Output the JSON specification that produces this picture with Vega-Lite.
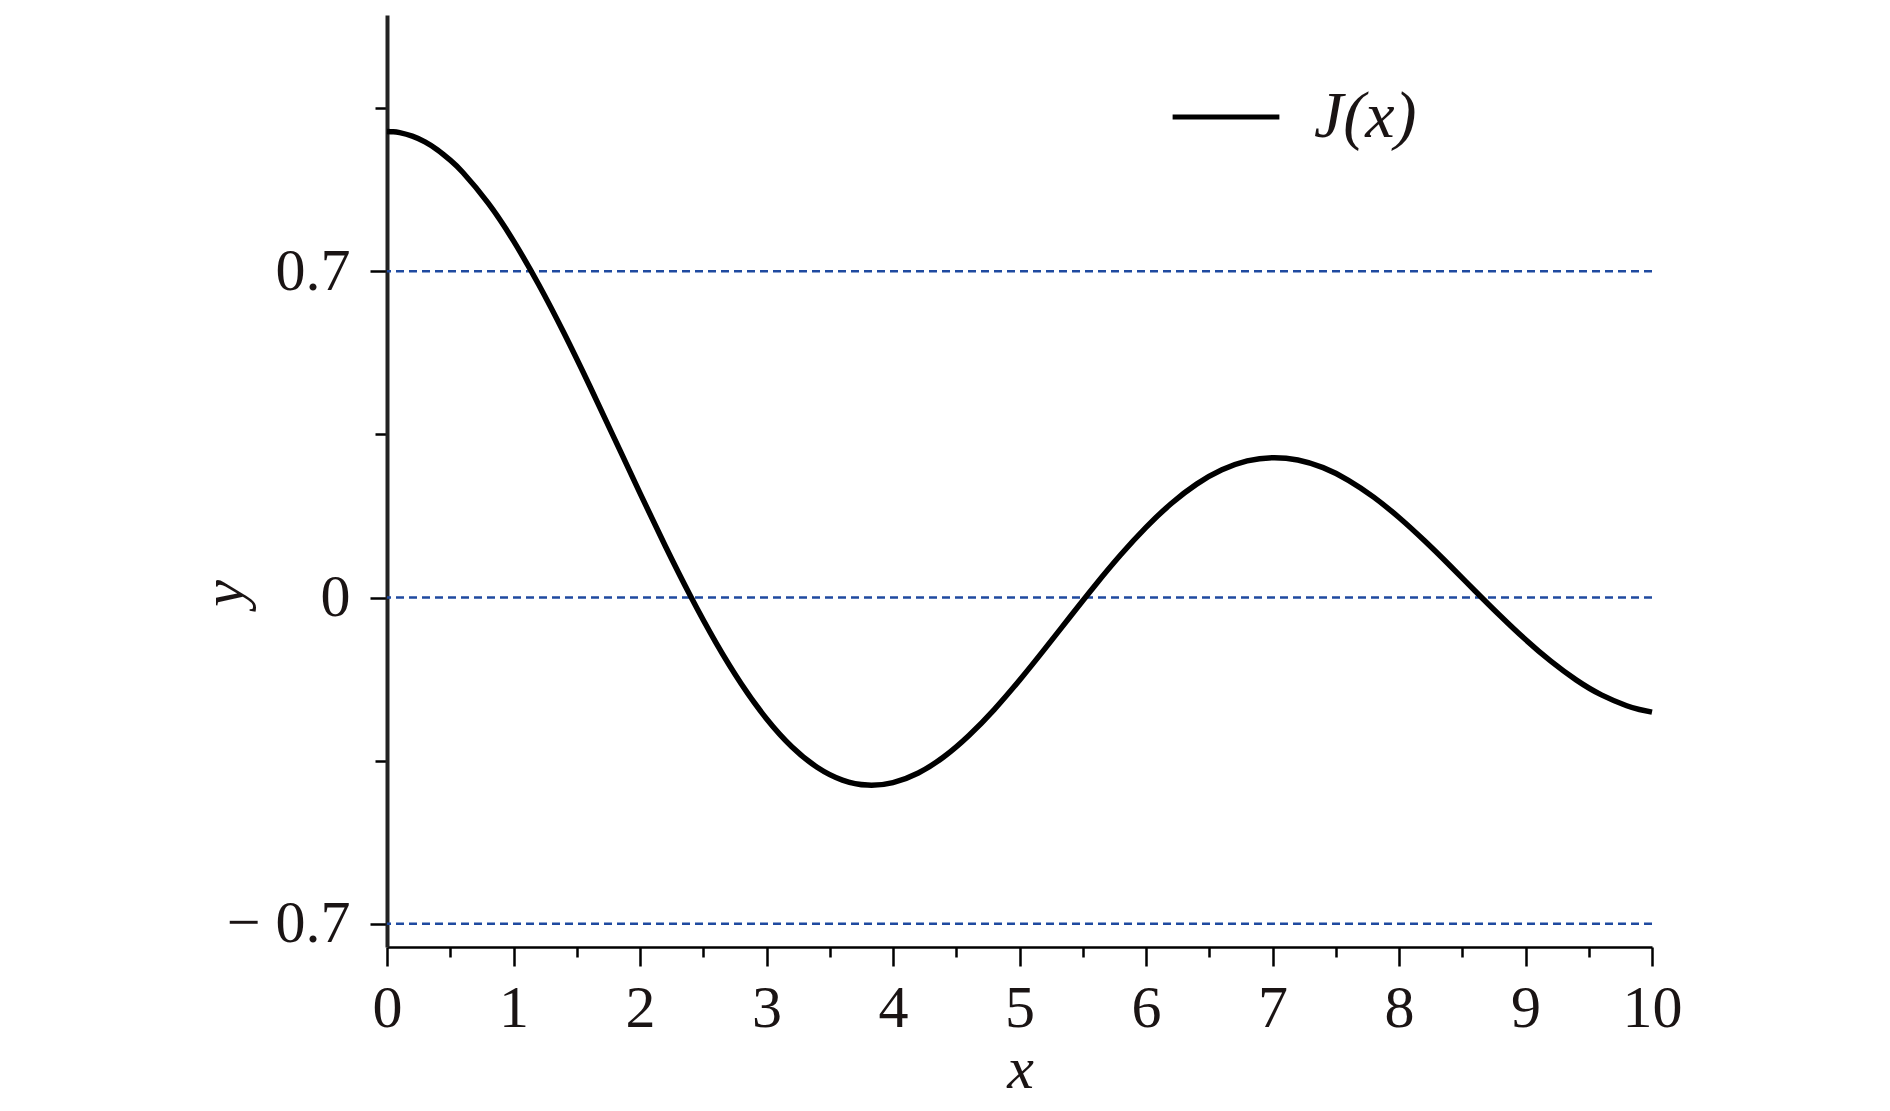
{
  "$schema": "https://vega.github.io/schema/vega-lite/v6.json",
  "width": 1265,
  "height": 932,
  "autosize": "none",
  "padding": {"left": 387, "top": 15, "right": 238, "bottom": 164},
  "background": "white",
  "config": {"view": {"stroke": null}},
  "datasets": {
    "curve": [
      {"x": 0.0, "y": 1.0, "series": "J(x)"},
      {"x": 0.05, "y": 0.9994, "series": "J(x)"},
      {"x": 0.1, "y": 0.9975, "series": "J(x)"},
      {"x": 0.2, "y": 0.99, "series": "J(x)"},
      {"x": 0.3, "y": 0.9776, "series": "J(x)"},
      {"x": 0.4, "y": 0.9604, "series": "J(x)"},
      {"x": 0.5, "y": 0.9385, "series": "J(x)"},
      {"x": 0.6, "y": 0.912, "series": "J(x)"},
      {"x": 0.8, "y": 0.8463, "series": "J(x)"},
      {"x": 1.0, "y": 0.7652, "series": "J(x)"},
      {"x": 1.2, "y": 0.6711, "series": "J(x)"},
      {"x": 1.4, "y": 0.5669, "series": "J(x)"},
      {"x": 1.6, "y": 0.4554, "series": "J(x)"},
      {"x": 1.8, "y": 0.34, "series": "J(x)"},
      {"x": 2.0, "y": 0.2239, "series": "J(x)"},
      {"x": 2.2, "y": 0.1104, "series": "J(x)"},
      {"x": 2.4, "y": 0.0025, "series": "J(x)"},
      {"x": 2.6, "y": -0.0968, "series": "J(x)"},
      {"x": 2.8, "y": -0.185, "series": "J(x)"},
      {"x": 3.0, "y": -0.2601, "series": "J(x)"},
      {"x": 3.2, "y": -0.3202, "series": "J(x)"},
      {"x": 3.4, "y": -0.3643, "series": "J(x)"},
      {"x": 3.6, "y": -0.3918, "series": "J(x)"},
      {"x": 3.8, "y": -0.4026, "series": "J(x)"},
      {"x": 4.0, "y": -0.3971, "series": "J(x)"},
      {"x": 4.2, "y": -0.3766, "series": "J(x)"},
      {"x": 4.4, "y": -0.3423, "series": "J(x)"},
      {"x": 4.6, "y": -0.2961, "series": "J(x)"},
      {"x": 4.8, "y": -0.2404, "series": "J(x)"},
      {"x": 5.0, "y": -0.1776, "series": "J(x)"},
      {"x": 5.2, "y": -0.1103, "series": "J(x)"},
      {"x": 5.4, "y": -0.0412, "series": "J(x)"},
      {"x": 5.6, "y": 0.027, "series": "J(x)"},
      {"x": 5.8, "y": 0.0917, "series": "J(x)"},
      {"x": 6.0, "y": 0.1506, "series": "J(x)"},
      {"x": 6.2, "y": 0.2017, "series": "J(x)"},
      {"x": 6.4, "y": 0.2433, "series": "J(x)"},
      {"x": 6.6, "y": 0.274, "series": "J(x)"},
      {"x": 6.8, "y": 0.2931, "series": "J(x)"},
      {"x": 7.0, "y": 0.3001, "series": "J(x)"},
      {"x": 7.2, "y": 0.2951, "series": "J(x)"},
      {"x": 7.4, "y": 0.2786, "series": "J(x)"},
      {"x": 7.6, "y": 0.2516, "series": "J(x)"},
      {"x": 7.8, "y": 0.2154, "series": "J(x)"},
      {"x": 8.0, "y": 0.1717, "series": "J(x)"},
      {"x": 8.2, "y": 0.1222, "series": "J(x)"},
      {"x": 8.4, "y": 0.0692, "series": "J(x)"},
      {"x": 8.6, "y": 0.0146, "series": "J(x)"},
      {"x": 8.8, "y": -0.0392, "series": "J(x)"},
      {"x": 9.0, "y": -0.0903, "series": "J(x)"},
      {"x": 9.2, "y": -0.1367, "series": "J(x)"},
      {"x": 9.4, "y": -0.1768, "series": "J(x)"},
      {"x": 9.6, "y": -0.209, "series": "J(x)"},
      {"x": 9.8, "y": -0.2323, "series": "J(x)"},
      {"x": 9.9, "y": -0.2403, "series": "J(x)"},
      {"x": 10.0, "y": -0.2459, "series": "J(x)"}
    ],
    "refs": [{"level": 0.7}, {"level": 0}, {"level": -0.7}]
  },
  "layer": [
    {
      "data": {"name": "refs"},
      "mark": {"type": "rule", "color": "#1f4aa0", "strokeWidth": 2.5, "strokeDash": [8, 5]},
      "encoding": {
        "y": {"field": "level", "type": "quantitative", "scale": {"domain": [-0.75, 1.25], "nice": false, "zero": false}}
      }
    },
    {
      "data": {"name": "curve"},
      "mark": {"type": "line", "strokeWidth": 5.5, "interpolate": "natural", "color": "black"},
      "encoding": {
        "x": {
          "field": "x", "type": "quantitative",
          "scale": {"domain": [0, 10], "nice": false, "zero": false},
          "axis": {
            "title": "x",
            "titleFont": "Liberation Serif", "titleFontStyle": "italic", "titleFontWeight": "normal",
            "titleFontSize": 60, "titleColor": "#1a1414",
            "titleX": 633, "titleY": 140, "titleBaseline": "alphabetic", "titleAlign": "center",
            "values": [0, 0.5, 1, 1.5, 2, 2.5, 3, 3.5, 4, 4.5, 5, 5.5, 6, 6.5, 7, 7.5, 8, 8.5, 9, 9.5, 10],
            "labelExpr": "datum.value % 1 == 0 ? format(datum.value, 'd') : ''",
            "labelFont": "Liberation Serif", "labelFontSize": 60, "labelColor": "#1a1414",
            "labelPadding": 13, "labelFlush": false, "labelOverlap": false,
            "tickSize": {"condition": {"test": "datum.value % 1 == 0", "value": 19}, "value": 10},
            "tickWidth": 2.5, "tickColor": "black",
            "domainColor": "black", "domainWidth": 2.5,
            "grid": false
          }
        },
        "y": {
          "field": "y", "type": "quantitative",
          "scale": {"domain": [-0.75, 1.25], "nice": false, "zero": false},
          "axis": {
            "title": "y",
            "titleFont": "Liberation Serif", "titleFontStyle": "italic", "titleFontWeight": "normal",
            "titleFontSize": 60, "titleColor": "#1a1414",
            "titleX": -163, "titleY": 578, "titleBaseline": "middle", "titleAlign": "center", "titleAngle": 270,
            "values": [-0.7, -0.35, 0, 0.35, 0.7, 1.05],
            "labelExpr": "datum.value == 0.7 ? '0.7' : datum.value == -0.7 ? '\u2212\u00a00.7' : datum.value == 0 ? '0' : ''",
            "labelFont": "Liberation Serif", "labelFontSize": 60, "labelColor": "#1a1414",
            "labelPadding": 20, "labelFlush": false, "labelOverlap": false,
            "tickSize": {"condition": {"test": "abs(datum.value) == 0.7 || datum.value == 0", "value": 17}, "value": 12},
            "tickWidth": 2.5, "tickColor": "black",
            "domainColor": "#222222", "domainWidth": 4,
            "grid": false
          }
        },
        "color": {
          "field": "series", "type": "nominal",
          "scale": {"domain": ["J(x)"], "range": ["black"]},
          "legend": {
            "title": null, "orient": "none", "legendX": 783, "legendY": 46,
            "symbolType": "stroke", "symbolSize": 11400, "symbolStrokeWidth": 5,
            "labelFont": "Liberation Serif", "labelFontStyle": "italic", "labelFontSize": 66,
            "labelColor": "#1a1414", "labelOffset": 32
          }
        }
      }
    }
  ]
}
